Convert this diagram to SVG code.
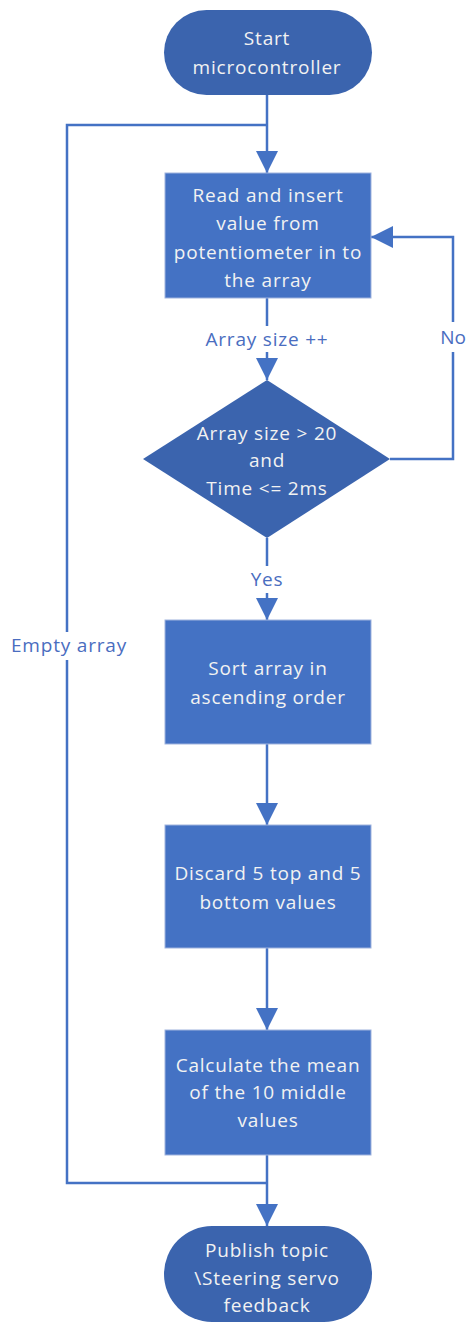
<svg xmlns="http://www.w3.org/2000/svg" width="467" height="1327" viewBox="0 0 467 1327">
<style>
.rect{fill:#4472C4;stroke:#9fb3de;stroke-width:1}
.dark{fill:#3B64AE}
.nt{font-family:"Open Sans","Noto Sans",sans-serif;font-size:19px;letter-spacing:0.8px;fill:#F2F2F2;text-anchor:middle}
.lbl{font-family:"Open Sans","Noto Sans",sans-serif;font-size:19px;letter-spacing:0.8px;fill:#4A6DC0;text-anchor:middle}
.ln{fill:none;stroke:#4472C4;stroke-width:2.5}
</style>
<defs>
<marker id="ah" markerUnits="userSpaceOnUse" markerWidth="22" markerHeight="22" viewBox="0 0 20 20" refX="20" refY="10" orient="auto">
<path d="M0,0 L20,10 L0,20 Z" fill="#4472C4"/>
</marker>
</defs>
<g id="connectors">
<line class="ln" x1="267" y1="95" x2="267" y2="173" marker-end="url(#ah)"/>
<polyline class="ln" points="267,125 67,125 67,632"/>
<polyline class="ln" points="67,660 67,1183 267,1183"/>
<line class="ln" x1="267" y1="1155" x2="267" y2="1226" marker-end="url(#ah)"/>
<line class="ln" x1="267" y1="298" x2="267" y2="326"/>
<line class="ln" x1="267" y1="352" x2="267" y2="380" marker-end="url(#ah)"/>
<polyline class="ln" points="390,459 453,459 453,352"/>
<polyline class="ln" points="453,322 453,237 371,237" marker-end="url(#ah)"/>
<line class="ln" x1="267" y1="538" x2="267" y2="566"/>
<line class="ln" x1="267" y1="593" x2="267" y2="620" marker-end="url(#ah)"/>
<line class="ln" x1="267" y1="744" x2="267" y2="825" marker-end="url(#ah)"/>
<line class="ln" x1="267" y1="948" x2="267" y2="1030" marker-end="url(#ah)"/>
<text class="lbl" x="267" y="346">Array size ++</text>
<text class="lbl" x="466" y="344" style="text-anchor:end;letter-spacing:0">No</text>
<text class="lbl" x="69" y="652">Empty array</text>
<text class="lbl" x="267" y="586">Yes</text>
</g>
<g id="start">
<rect class="dark" x="164" y="10" width="208" height="85" rx="42.5"/>
<text class="nt" x="267" y="45">Start</text>
<text class="nt" x="267" y="74">microcontroller</text>
</g>
<g id="read">
<rect class="rect" x="165" y="173" width="206" height="125"/>
<text class="nt" x="268" y="202">Read and insert</text>
<text class="nt" x="268" y="230">value from</text>
<text class="nt" x="268" y="259">potentiometer in to</text>
<text class="nt" x="268" y="287">the array</text>
</g>
<g id="decision">
<polygon class="dark" points="267,380 390,459 267,538 143,459"/>
<text class="nt" x="267" y="440">Array size &gt; 20</text>
<text class="nt" x="267" y="467">and</text>
<text class="nt" x="267" y="495">Time &lt;= 2ms</text>
</g>
<g id="sort">
<rect class="rect" x="165" y="620" width="206" height="124"/>
<text class="nt" x="268" y="675">Sort array in</text>
<text class="nt" x="268" y="704">ascending order</text>
</g>
<g id="discard">
<rect class="rect" x="165" y="825" width="206" height="123"/>
<text class="nt" x="268" y="880">Discard 5 top and 5</text>
<text class="nt" x="268" y="909">bottom values</text>
</g>
<g id="mean">
<rect class="rect" x="165" y="1030" width="206" height="125"/>
<text class="nt" x="268" y="1072">Calculate the mean</text>
<text class="nt" x="268" y="1099">of the 10 middle</text>
<text class="nt" x="268" y="1127">values</text>
</g>
<g id="publish">
<rect class="dark" x="164" y="1226" width="208" height="96" rx="48"/>
<text class="nt" x="267" y="1257">Publish topic</text>
<text class="nt" x="267" y="1285">\Steering servo</text>
<text class="nt" x="267" y="1312">feedback</text>
</g>
</svg>
